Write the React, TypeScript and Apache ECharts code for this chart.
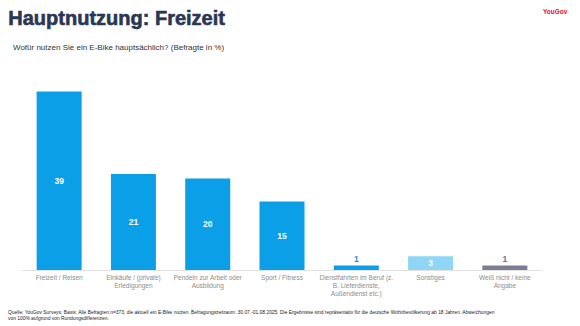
import React, { useEffect, useRef } from "react";
import * as echarts from "echarts";

const categories = [
  "Freizeit / Reisen",
  "Einkäufe / (private)\nErledigungen",
  "Pendeln zur Arbeit oder\nAusbildung",
  "Sport / Fitness",
  "Dienstfahrten im Beruf (z.\nB. Lieferdienste,\nAußendienst etc.)",
  "Sonstiges",
  "Weiß nicht / keine\nAngabe",
];
const values = [39, 21, 20, 15, 1, 3, 1];
const barColors = ["#0A9FE6", "#0A9FE6", "#0A9FE6", "#0A9FE6", "#0A9FE6", "#8ED5F6", "#7A7E92"];
const labelInside = [true, true, true, true, false, true, false];
const labelColors = ["#ffffff", "#ffffff", "#ffffff", "#ffffff", "#1E8FD0", "#ffffff", "#6E7286"];

const titleText = "Hauptnutzung: Freizeit";
const subtitleText = "Wofür nutzen Sie ein E-Bike hauptsächlich? (Befragte in %)";
const footnoteLines = [
  "Quelle: YouGov Surveys; Basis: Alle Befragten n=373, die aktuell ein E-Bike nutzen. Befragungszeitraum: 30.07.-01.08.2025. Die Ergebnisse sind repräsentativ für die deutsche Wohnbevölkerung ab 18 Jahren. Abweichungen",
  "von 100% aufgrund von Rundungsdifferenzen.",
];

const FONT = "'Liberation Sans', Arial, Helvetica, sans-serif";

export default function App() {
  const ref = useRef<HTMLDivElement>(null);
  useEffect(() => {
    if (!ref.current) return;
    const chart = echarts.init(ref.current, undefined, { renderer: "svg" });
    chart.setOption({
      animation: false,
      backgroundColor: "#ffffff",
      textStyle: { fontFamily: FONT },
      grid: { left: 22, right: 38, top: 87, bottom: 56, containLabel: false },
      xAxis: {
        type: "category",
        data: categories,
        axisLine: { show: true, lineStyle: { color: "#E2E2E2", width: 1 } },
        axisTick: { show: false },
        axisLabel: {
          interval: 0,
          color: "#8C8C8C",
          fontSize: 6.5,
          lineHeight: 8,
          margin: 3,
          fontFamily: FONT,
        },
      },
      yAxis: {
        type: "value",
        min: 0,
        max: 40,
        show: false,
        splitLine: { show: false },
      },
      series: [
        {
          type: "bar",
          barWidth: 45,
          data: values.map((v, i) => ({
            value: v,
            itemStyle: { color: barColors[i] },
            label: {
              show: true,
              position: labelInside[i] ? "inside" : "top",
              distance: 2,
              color: labelColors[i],
              fontWeight: "bold",
              fontSize: 8.5,
              fontFamily: FONT,
            },
          })),
        },
      ],
      graphic: [
        {
          type: "text",
          left: 8,
          top: 8,
          style: {
            text: titleText,
            font: `bold 20px ${FONT}`,
            fill: "#2A3754",
            stroke: "#2A3754",
            lineWidth: 0.6,
          },
        },
        {
          type: "text",
          left: 13,
          top: 43,
          style: {
            text: subtitleText,
            font: `8px ${FONT}`,
            fill: "#333333",
          },
        },
        {
          type: "text",
          left: 543,
          top: 8,
          style: {
            text: "YouGov",
            font: `bold 6.5px ${FONT}`,
            fill: "#E8112D",
          },
        },
        {
          type: "text",
          left: 8,
          top: 309,
          style: {
            text: footnoteLines.join("\n"),
            font: `4.9px ${FONT}`,
            lineHeight: 6.5,
            fill: "#222222",
          },
        },
      ],
    });
    return () => chart.dispose();
  }, []);
  return (
    <div
      ref={ref}
      style={{ position: "absolute", left: 0, top: 0, width: 580, height: 326 }}
    />
  );
}
